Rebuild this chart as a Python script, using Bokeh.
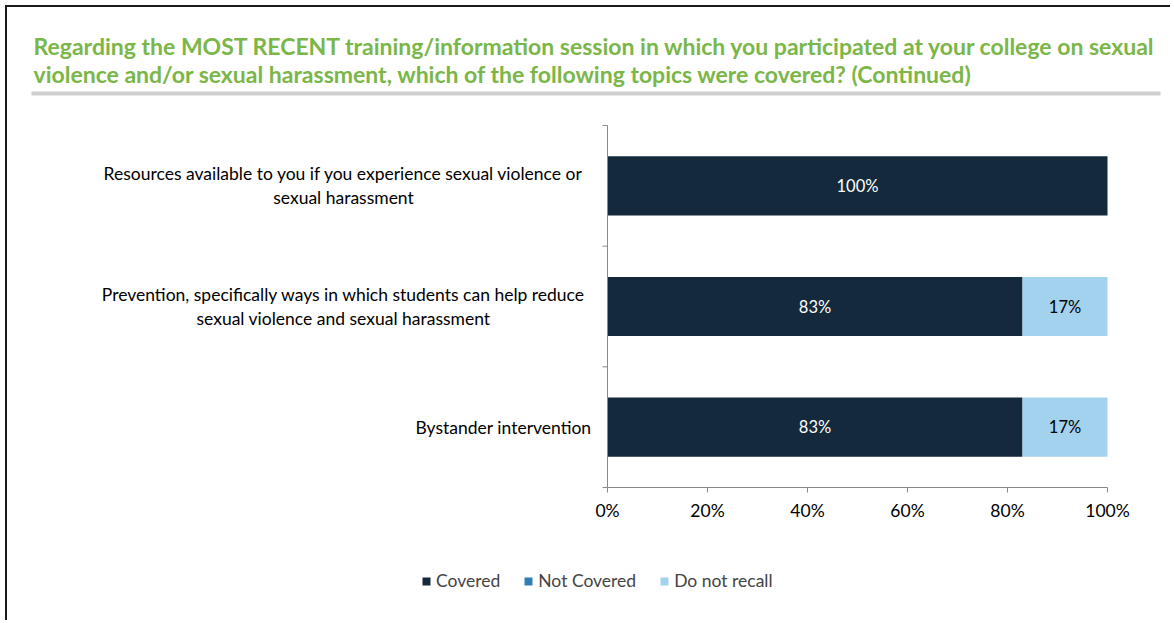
import math
from bokeh.plotting import figure
from bokeh.models import (Range1d, Label, Legend, LegendItem, FixedTicker,
                          ColumnDataSource, BoxAnnotation)
from bokeh.embed import file_html
from bokeh.resources import INLINE

# ---------------- data ----------------
title_lines = [
    "Regarding the MOST RECENT training/information session in which you participated at your college on sexual",
    "violence and/or sexual harassment, which of the following topics were covered? (Continued)",
]
categories = [
    "Resources available to you if you experience sexual violence or\nsexual harassment",
    "Prevention, specifically ways in which students can help reduce\nsexual violence and sexual harassment",
    "Bystander intervention",
]
series = ["Covered", "Not Covered", "Do not recall"]
covered = [1.00, 0.83, 0.83]
not_covered = [0.0, 0.0, 0.0]
do_not_recall = [0.0, 0.17, 0.17]
x_ticks = [0, 0.2, 0.4, 0.6, 0.8, 1.0]
x_tick_labels = ["0%", "20%", "40%", "60%", "80%", "100%"]
colors = ["#14293B", "#2F7DB5", "#A3D2EE"]
label_colors = ["white", "white", "black"]

# ---------------- layout (page pixels) ----------------
OX, OY = 7, 7                         # canvas origin on the page (after css margin+border)
W, H = 1165, 615
MB = 30                               # room kept under the frame for the tick labels
FBOT = OY + H - MB                    # frame bottom on the page
FL, FR, FT, FB = 607, 1107, 125, 487  # 0%..100% and the category block
n = len(categories)

def dx(px):
    return (px - FL) / (FR - FL)

def dy(py):
    return (FB - py) / (FB - FT) * n

p = figure(width=W, height=H, output_backend="svg", toolbar_location=None,
           x_range=Range1d(dx(OX), dx(OX + W)), y_range=Range1d(dy(FBOT), dy(OY)),
           y_axis_location=None,
           min_border_left=0, min_border_right=0, min_border_top=0,
           min_border_bottom=MB)
p.styles = {"margin-left": "5px", "margin-top": "5px",
            "border-left": "2px solid #1a1a1a", "border-top": "2px solid #1a1a1a"}
p.outline_line_color = None
p.xgrid.grid_line_color = None
p.ygrid.grid_line_color = None
p.background_fill_color = "white"
p.border_fill_color = "white"

ypos = [n - 1 - i + 0.5 for i in range(n)]
data = {"y": ypos, series[0]: covered, series[1]: not_covered, series[2]: do_not_recall}
src = ColumnDataSource(data)
renderers = p.hbar_stack(series, y="y", height=0.49, color=colors, source=src,
                         line_color=None)

# value labels
vals = [covered, not_covered, do_not_recall]
for i in range(n):
    left = 0.0
    for s, v in enumerate(vals):
        if v[i] > 0:
            p.add_layout(Label(x=left + v[i] / 2, y=ypos[i], text=f"{round(v[i]*100)}%",
                               text_align="center", text_baseline="middle",
                               text_color=label_colors[s], text_font="Lato",
                               text_font_size="16.5px"))
        left += v[i]

# x axis drawn at 0 on the category scale, restricted to 0..100%
p.xaxis.fixed_location = 0
p.xaxis.bounds = (0, 1)
p.xaxis.ticker = FixedTicker(ticks=x_ticks)
p.xaxis.major_label_overrides = {t: l for t, l in zip(x_ticks, x_tick_labels)}
p.xaxis.major_label_text_font = "Lato"
p.xaxis.major_label_text_font_size = "17.5px"
p.xaxis.major_label_text_color = "black"
p.xaxis.axis_line_color = "#8a8a8a"
p.xaxis.major_tick_line_color = "#8a8a8a"
p.xaxis.major_tick_out = 5
p.xaxis.major_tick_in = 0
p.xaxis.minor_tick_line_color = None
p.xaxis.major_label_standoff = 7

# category axis line + boundary ticks
p.segment(x0=[0], y0=[0], x1=[0], y1=[n], line_color="#8a8a8a", line_width=1)
p.ray(x=[0] * (n + 1), y=list(range(n + 1)), length=5, length_units="screen",
      angle=math.pi, line_color="#8a8a8a", line_width=1)

# category labels
line_step = 24 / (FB - FT) * n
for i, cat in enumerate(categories):
    lines = cat.split("\n")
    k = len(lines)
    for j, ln in enumerate(lines):
        yy = ypos[i] + ((k - 1) / 2 - j) * line_step
        if k > 1:
            lab = Label(x=dx(343), y=yy, text=ln, text_align="center")
        else:
            lab = Label(x=dx(591), y=yy, text=ln, text_align="right")
        lab.text_baseline = "middle"
        lab.text_font = "Lato"
        lab.text_font_size = "17.5px"
        lab.text_color = "black"
        p.add_layout(lab)

# title
for j, t in enumerate(title_lines):
    p.add_layout(Label(x=dx(33), y=dy(45 + 28 * j), text=t, text_align="left",
                       text_baseline="middle", text_font="Lato", text_font_style="bold",
                       text_font_size="23px", text_color="#7AB648"))
p.add_layout(BoxAnnotation(left=dx(31), right=dx(1160), top=dy(91), bottom=dy(95),
                           fill_color="#CFCFCF", fill_alpha=1, line_color=None))

# legend
legend = Legend(items=[LegendItem(label=s, renderers=[r]) for s, r in zip(series, renderers)],
                orientation="horizontal", location=(421 - OX, 1),
                glyph_width=10, glyph_height=10, label_text_font="Lato",
                label_text_font_size="17.5px", label_standoff=5, spacing=23,
                padding=0, margin=0, border_line_color=None, background_fill_alpha=0)
p.add_layout(legend, "center")

open("out.html", "w").write(file_html(p, INLINE))
